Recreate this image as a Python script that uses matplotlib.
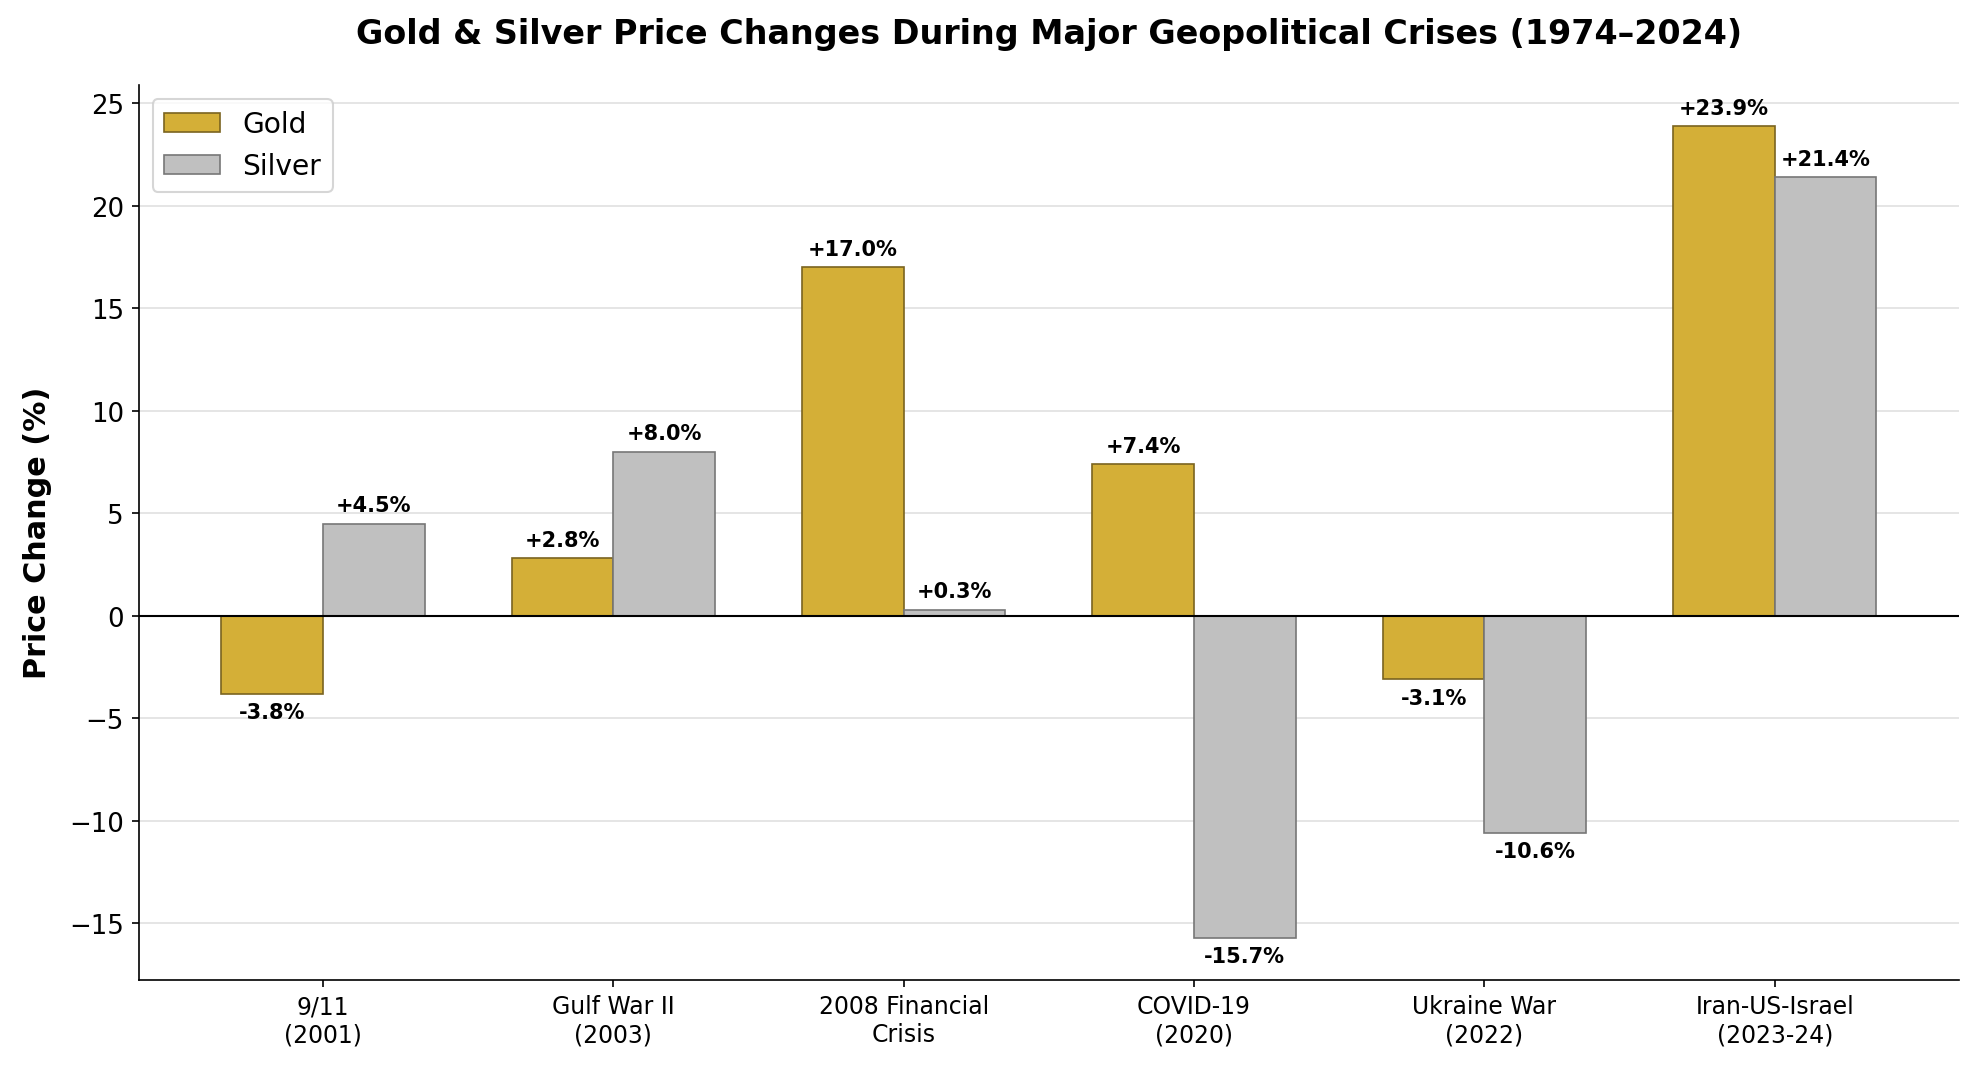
import matplotlib
matplotlib.use("Agg")
import matplotlib.pyplot as plt
import numpy as np

# 数据
events = ["9/11\n(2001)", "Gulf War II\n(2003)", "2008 Financial\nCrisis",
          "COVID-19\n(2020)", "Ukraine War\n(2022)", "Iran-US-Israel\n(2023-24)"]
gold = [-3.8, 2.8, 17.0, 7.4, -3.1, 23.9]
silver = [4.5, 8.0, 0.3, -15.7, -10.6, 21.4]

fig, ax = plt.subplots(figsize=(13.193, 7.153), dpi=150)
fig.subplots_adjust(left=0.07, right=0.99, top=0.92, bottom=0.086)

x = np.arange(len(events))
w = 0.35
b1 = ax.bar(x - w / 2, gold, w, color="#D4AF37", edgecolor="#7A6420",
            linewidth=0.8, label="Gold", zorder=3)
b2 = ax.bar(x + w / 2, silver, w, color="#C0C0C0", edgecolor="#777777",
            linewidth=0.8, label="Silver", zorder=3)

for bars, vals in [(b1, gold), (b2, silver)]:
    for r, v in zip(bars, vals):
        off = 4 if v >= 0 else -4
        ax.annotate(f"{v:+.1f}%", (r.get_x() + r.get_width() / 2, v),
                    xytext=(0, off), textcoords="offset points",
                    ha="center", va="bottom" if v >= 0 else "top",
                    fontsize=10, fontweight="bold")

ax.axhline(0, color="black", lw=1, zorder=4)
ax.set_xticks(x)
ax.set_xticklabels(events, fontsize=11.3)
ax.tick_params(axis="y", labelsize=12.5)
ax.set_ylim(-17.75, 25.9)
ax.set_ylabel("Price Change (%)", fontsize=14.5, fontweight="bold", labelpad=8)
ax.set_title("Gold & Silver Price Changes During Major Geopolitical Crises (1974–2024)",
             fontsize=16, fontweight="bold", pad=20)
ax.yaxis.grid(True, color="#e0e0e0", lw=0.8, zorder=0)
ax.spines["top"].set_visible(False)
ax.spines["right"].set_visible(False)
ax.legend(loc="upper left", fontsize=13.5)

fig.savefig("out.png", dpi=150)
